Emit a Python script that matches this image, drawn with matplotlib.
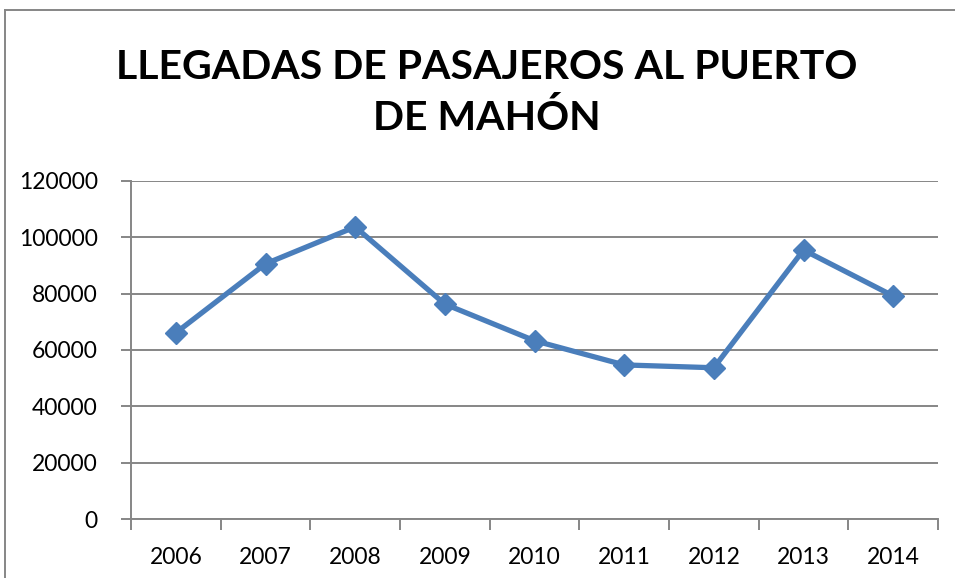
import matplotlib
matplotlib.use("Agg")
import matplotlib.pyplot as plt
from matplotlib.lines import Line2D
from matplotlib.ticker import FixedLocator, NullFormatter

years = ["2006", "2007", "2008", "2009", "2010", "2011", "2012", "2013", "2014"]
pasajeros = [66100, 90600, 103700, 76300, 63300, 54700, 53700, 95500, 79200]
y_ticks = [0, 20000, 40000, 60000, 80000, 100000, 120000]

plt.rcParams["font.family"] = ["Lato", "DejaVu Sans"]

W, H = 955, 578
fig = plt.figure(figsize=(W / 100, H / 100), dpi=100)
ax = fig.add_axes([131 / W, 1 - 519 / H, (938 - 131) / W, (519 - 181) / H])

grid_c = "#868686"
line_c = "#4A7EBB"

x = list(range(len(years)))
ax.plot(x, pasajeros, color=line_c, lw=3.8, marker="D", markersize=11,
        markeredgecolor=line_c, markerfacecolor=line_c, zorder=3)

ax.set_xlim(-0.5, len(years) - 0.5)
ax.set_ylim(0, 120000)
ax.set_yticks(y_ticks)
ax.set_yticklabels([str(v) for v in y_ticks])
ax.yaxis.grid(True, color=grid_c, lw=1.4)
ax.set_axisbelow(True)

# category ticks sit between the labels
ax.xaxis.set_major_locator(FixedLocator([i - 0.5 for i in range(len(years) + 1)]))
ax.xaxis.set_major_formatter(NullFormatter())
ax.xaxis.set_minor_locator(FixedLocator(x))
ax.set_xticklabels(years, minor=True)
ax.tick_params(axis="x", which="major", length=8, width=1.4, color=grid_c, direction="out")
ax.tick_params(axis="x", which="minor", length=0, pad=20, labelsize=16.5)
ax.tick_params(axis="y", length=7, width=1.4, color=grid_c, pad=17, labelsize=16.5)

for s in ["top", "right"]:
    ax.spines[s].set_visible(False)
for s in ["left", "bottom"]:
    ax.spines[s].set_color(grid_c)
    ax.spines[s].set_linewidth(1.4)

fig.text(487 / W, 1 - 93 / H, "LLEGADAS DE PASAJEROS AL PUERTO\nDE MAHÓN",
         ha="center", va="center", fontsize=29.5, fontweight="bold",
         linespacing=1.45, color="black")

# outer chart frame
fig.add_artist(Line2D([5 / W, 1.01], [1 - 10 / H, 1 - 10 / H], color=grid_c, lw=1.4,
                      transform=fig.transFigure))
fig.add_artist(Line2D([5 / W, 5 / W], [1 - 10 / H, -0.01], color=grid_c, lw=1.4,
                      transform=fig.transFigure))

fig.savefig("out.png", dpi=100, facecolor="white")
